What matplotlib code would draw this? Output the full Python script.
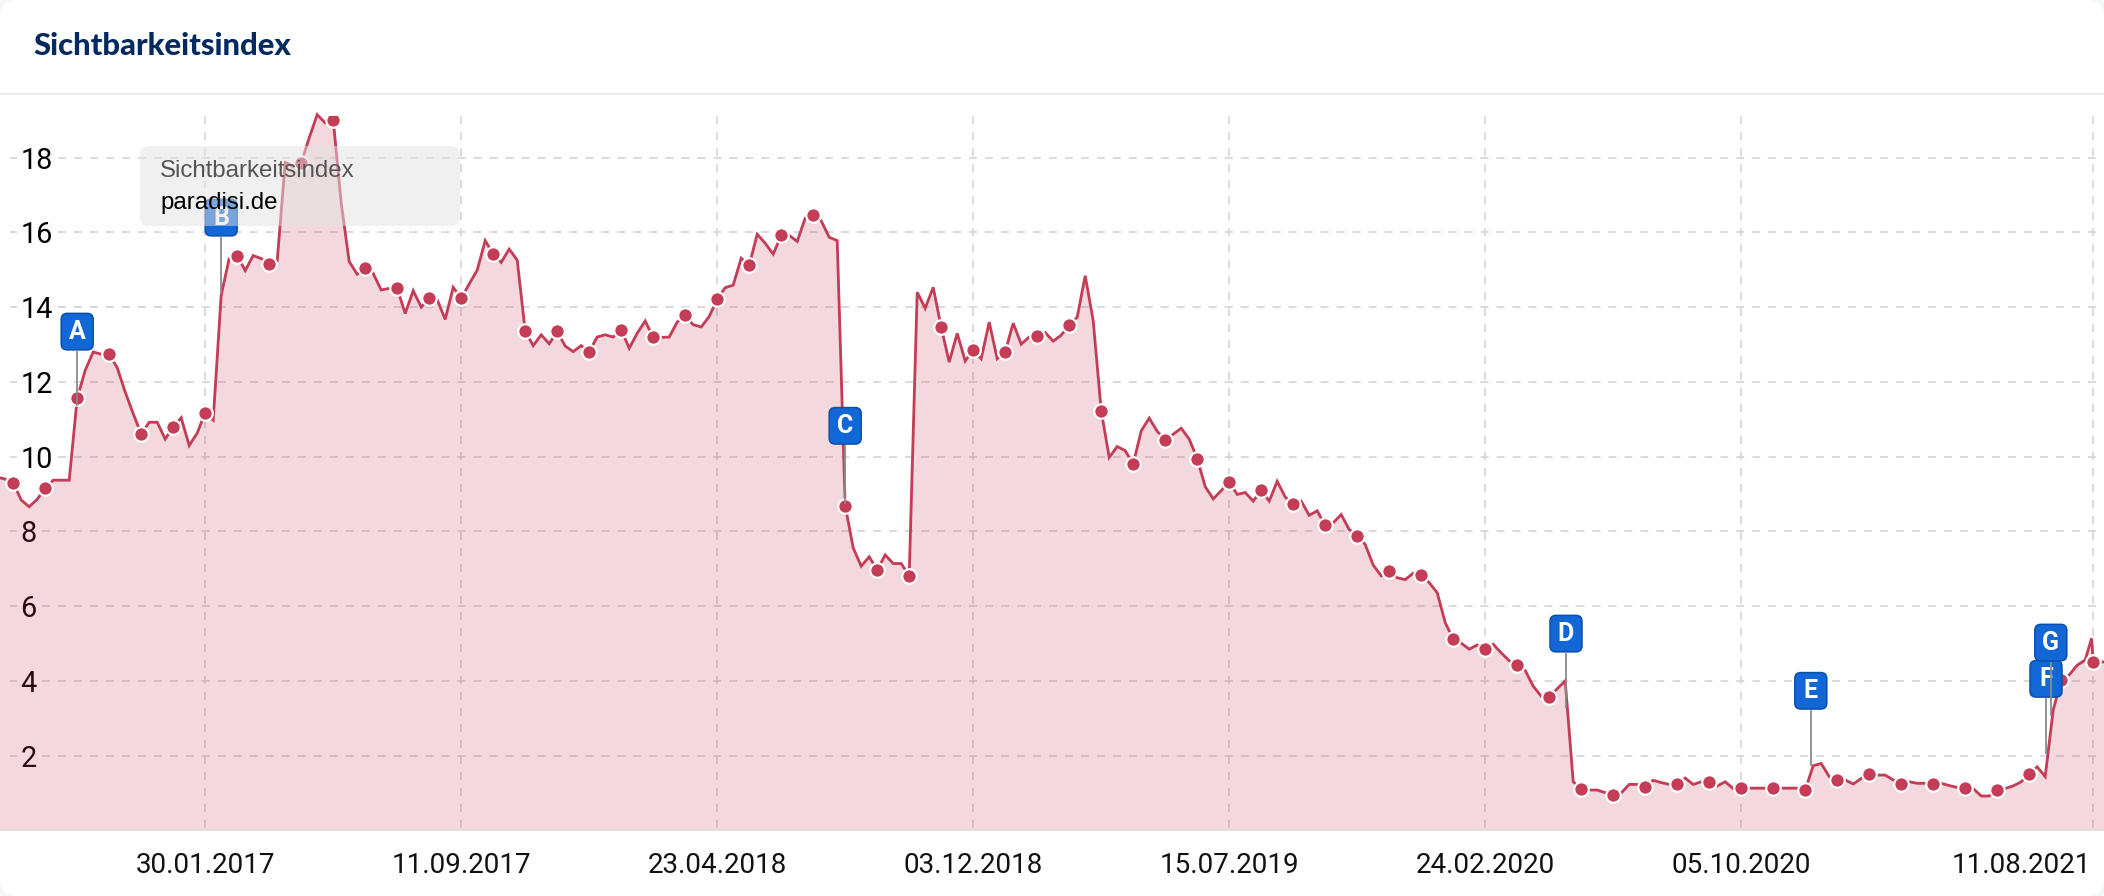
import matplotlib
matplotlib.use("Agg")
import matplotlib.pyplot as plt
from matplotlib.patches import FancyBboxPatch, Rectangle
from matplotlib.transforms import IdentityTransform
from matplotlib.lines import Line2D

W, H = 2104, 896
TOP, BOTTOM = 116, 830.4

values = [9.45, 9.40, 9.30, 8.84, 8.66, 8.86, 9.15, 9.37, 9.37, 9.37, 11.56, 12.31, 12.80, 12.74, 12.74, 12.38,
          11.73, 11.15, 10.61, 10.92, 10.92, 10.47, 10.80, 11.04, 10.30, 10.63, 11.18, 10.98, 14.32, 15.30, 15.38, 14.98,
          15.38, 15.30, 15.15, 15.24, 17.87, 17.77, 17.86, 18.53, 19.15, 18.93, 19.02, 16.78, 15.22, 14.88, 15.04, 14.90,
          14.46, 14.50, 14.50, 13.83, 14.44, 14.00, 14.24, 14.20, 13.67, 14.53, 14.24, 14.62, 14.99, 15.78, 15.42, 15.20,
          15.55, 15.26, 13.36, 12.97, 13.26, 13.02, 13.35, 12.96, 12.81, 12.97, 12.81, 13.20, 13.26, 13.20, 13.40, 12.90,
          13.30, 13.63, 13.19, 13.19, 13.20, 13.60, 13.78, 13.53, 13.47, 13.75, 14.21, 14.52, 14.59, 15.31, 15.12, 15.95,
          15.71, 15.42, 15.92, 15.92, 15.76, 16.38, 16.46, 16.31, 15.87, 15.78, 8.69, 7.56, 7.07, 7.32, 6.97, 7.37,
          7.14, 7.14, 6.81, 14.40, 13.97, 14.53, 13.46, 12.53, 13.30, 12.56, 12.86, 12.62, 13.60, 12.62, 12.81, 13.57,
          13.01, 13.20, 13.24, 13.32, 13.09, 13.25, 13.52, 13.73, 14.84, 13.64, 11.23, 9.98, 10.27, 10.16, 9.80, 10.69,
          11.03, 10.68, 10.44, 10.60, 10.76, 10.47, 9.95, 9.20, 8.87, 9.09, 9.32, 8.99, 9.04, 8.81, 9.10, 8.81,
          9.34, 8.92, 8.73, 8.81, 8.43, 8.55, 8.16, 8.23, 8.45, 8.05, 7.89, 7.65, 7.10, 6.81, 6.93, 6.76,
          6.71, 6.88, 6.84, 6.63, 6.36, 5.56, 5.12, 5.01, 4.85, 4.96, 4.85, 4.98, 4.75, 4.54, 4.43, 4.28,
          3.86, 3.59, 3.57, 3.79, 4.00, 1.30, 1.12, 1.08, 1.08, 1.01, 0.96, 1.00, 1.23, 1.23, 1.17, 1.34,
          1.28, 1.23, 1.23, 1.40, 1.23, 1.30, 1.29, 1.19, 1.30, 1.12, 1.13, 1.13, 1.13, 1.13, 1.13, 1.13,
          1.13, 1.13, 1.08, 1.73, 1.79, 1.44, 1.35, 1.35, 1.24, 1.39, 1.51, 1.48, 1.48, 1.35, 1.24, 1.30,
          1.26, 1.26, 1.24, 1.26, 1.20, 1.15, 1.13, 1.12, 0.92, 0.92, 1.08, 1.12, 1.19, 1.30, 1.51, 1.70,
          1.44, 3.22, 4.02, 4.16, 4.42, 4.56, 5.14, 4.51, 4.51, 4.50]
weeks = list(range(262)) + [261.8, 262, 263, 264]
dot_weeks = list(range(2, 263, 4))
y_ticks = [2, 4, 6, 8, 10, 12, 14, 16, 18]
x_ticks = [26, 58, 90, 122, 154, 186, 218, 262]
x_labels = ["30.01.2017", "11.09.2017", "23.04.2018", "03.12.2018", "15.07.2019", "24.02.2020", "05.10.2020", "11.08.2021"]
pin_letters = ["A", "B", "C", "D", "E", "F", "G"]
pin_weeks = [10, 28, 106, 196.1, 226.7, 256.1, 256.7]
pin_tops = [12.83, 15.88, 10.31, 4.75, 3.22, 3.54, 4.51]
pin_ends = [11.38, 14.38, 8.76, 3.31, 1.75, 2.07, 3.09]

LINE = "#c43c56"
PX = 72 / 100

plt.rcParams["font.family"] = ["Roboto", "DejaVu Sans"]
fig = plt.figure(figsize=(W / 100, H / 100), dpi=100, facecolor="#f6f7f8")
I = IdentityTransform()


def py(y):
    return H - y


def wk_of_px(x):
    return (x + 2.8) / 8


card = FancyBboxPatch((0, 0), W, H, boxstyle="round,pad=0,rounding_size=18", transform=I,
                      fc="white", ec="none", zorder=-5)
fig.add_artist(card)
fig.add_artist(Rectangle((0, py(95)), W, 2, transform=I, fc="#ececec", ec="none", zorder=-4))
fig.text(33 / W, 1 - 55 / H, "Sichtbarkeitsindex", fontsize=22.3, fontweight="black", family="Lato",
         color="#022a5e", va="baseline", ha="left")

ax = fig.add_axes([0, 1 - BOTTOM / H, 1, (BOTTOM - TOP) / H])
ax.patch.set_alpha(0)
ax.set_xlim(wk_of_px(0), wk_of_px(W))
ax.set_ylim(0, (BOTTOM - TOP) / 37.375)
for s in ["top", "left", "right"]:
    ax.spines[s].set_visible(False)
ax.spines["bottom"].set_color("#d9d9d9")
ax.spines["bottom"].set_linewidth(1.5 * PX)

ax.set_axisbelow(True)
ax.set_yticks(y_ticks)
ax.set_xticks(x_ticks)
ax.set_xticklabels([])
ax.set_yticklabels([])
ax.tick_params(length=0)
ax.grid(True, color="#d8d8d8", lw=1.8 * PX)
for g in ax.get_ygridlines():
    g.set_linestyle((3.33, (4.44, 4.44)))
for g in ax.get_xgridlines():
    g.set_linestyle((7.56, (4.44, 4.44)))
# horizontal grid starts 10 px from the left edge
ax.axvspan(wk_of_px(0), wk_of_px(10), color="white", lw=0, zorder=1)
ax.fill_between(weeks, values, 0, color=LINE, alpha=0.2, lw=0, zorder=2)
ax.plot(weeks, values, color=LINE, lw=2.8 * PX, zorder=3, solid_joinstyle="miter", clip_on=False)
ax.plot(dot_weeks, [values[weeks.index(w)] for w in dot_weeks], ls="none", marker="o", ms=14.5 * PX,
        mfc=LINE, mec="white", mew=2.2 * PX, zorder=4, clip_on=True)

for v in y_ticks:
    ax.text(wk_of_px(20.5), v, str(v), fontsize=20.8, ha="left", va="center_baseline", color="black", zorder=1.5,
            bbox=dict(fc="white", ec="none", pad=2.5))
for i, (t, lab) in enumerate(zip(x_ticks, x_labels)):
    ha = "center"
    x = t
    if i == 7:
        ha, x = "right", t - 0.3
    ax.annotate(lab, (x, 0), xytext=(0, -35 * PX), textcoords="offset points", ha=ha, va="center",
                fontsize=20, color="#111111", annotation_clip=False)

fig.canvas.draw()
for letter, wk, top, end in zip(pin_letters, pin_weeks, pin_tops, pin_ends):
    x0, y0 = ax.transData.transform((wk, top))
    x1, y1 = ax.transData.transform((wk, end))
    z = 5 + pin_letters.index(letter)
    fig.add_artist(Line2D([x0, x1], [y0 - 1, y1], transform=I, color="#8a8a8a", lw=1.8 * PX, zorder=z + .5))
    box = FancyBboxPatch((x0 - 16, y0 + 1), 32, 36.5, boxstyle="round,pad=0,rounding_size=6", transform=I,
                         fc="#1167d6", ec="#0b4ea8", lw=1.5 * PX, zorder=z)
    fig.add_artist(box)
    fig.text(x0 / W, (y0 + 19) / H, letter, fontsize=18, fontweight="bold", color="white", ha="center", va="center",
             zorder=z + .2)

tip = FancyBboxPatch((140, py(226)), 320, 80, boxstyle="round,pad=0,rounding_size=9", transform=I,
                     fc=(0.89, 0.89, 0.89, 0.5), ec="none", zorder=20)
fig.add_artist(tip)
fig.text(160 / W, 1 - 177 / H, "Sichtbarkeitsindex", fontsize=17.3, family="Liberation Sans", color="#555555",
         va="baseline", zorder=21)
fig.text(160 / W, 1 - 209 / H, "paradisi.de", fontsize=17.3, family="Liberation Sans", color="black",
         va="baseline", zorder=21)

fig.savefig("out.png", dpi=100, facecolor=fig.get_facecolor())
